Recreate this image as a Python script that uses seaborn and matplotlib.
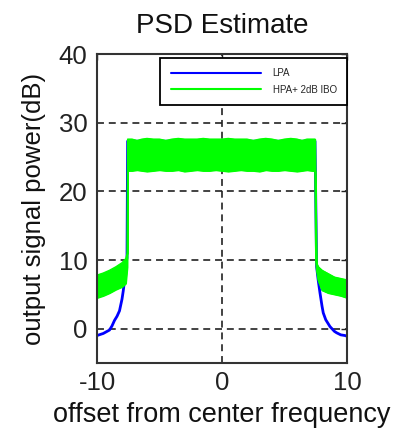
import matplotlib
matplotlib.use("Agg")
import matplotlib.pyplot as plt
import numpy as np
import pandas as pd
import seaborn as sns

# ---- data -------------------------------------------------------------
# Linear power amplifier (LPA) spectrum
lpa_freq = [-10.0, -9.5, -9.0, -8.8, -8.6, -8.4, -8.2, -8.0, -7.9, -7.8, -7.7,
            -7.6, -7.55, -7.0, -6.0, -5.0, -4.0, -3.0, -2.0, -1.0, 0.0, 1.0,
            2.0, 3.0, 4.0, 5.0, 6.0, 7.0, 7.44, 7.57, 7.7, 7.84, 8.0, 8.1,
            8.3, 8.64, 9.0, 9.17, 9.5, 9.84, 10.0]
lpa_power = [-1.0, -0.7, -0.2, 0.4, 1.2, 1.8, 2.6, 4.3, 5.5, 7.0, 9.2,
             10.3, 27.3, 27.3, 27.3, 27.3, 27.3, 27.3, 27.3, 27.3, 27.3, 27.3,
             27.3, 27.3, 27.3, 27.3, 27.3, 27.3, 27.3, 9.0, 7.0, 5.2, 3.3, 2.3,
             1.3, 0.3, -0.4, -0.6, -0.9, -1.0, -1.1]

# High power amplifier (HPA, 2 dB input back-off) spectrum: spread of the
# fluctuating estimate, given as its upper and lower envelope
hpa_freq = [-10.0, -9.5, -9.0, -8.5, -8.0, -7.7, -7.58, -7.55, -7.2, -6.8,
            -6.4, -6.0, -5.5, -5.0, -4.5, -4.0, -3.5, -3.0, -2.5, -2.0, -1.5,
            -1.0, -0.5, 0.0, 0.5, 1.0, 1.5, 2.0, 2.5, 3.0, 3.5, 4.0, 4.5, 5.0,
            5.5, 6.0, 6.4, 6.8, 7.2, 7.44, 7.5, 7.57, 7.7, 8.0, 8.5, 9.0, 9.5,
            10.0]
hpa_upper = [7.8, 8.1, 8.5, 9.0, 9.6, 10.2, 11.0, 27.6, 27.6, 27.4, 27.6,
             27.7, 27.6, 27.6, 27.4, 27.6, 27.7, 27.6, 27.6, 27.6, 27.7, 27.6,
             27.6, 27.6, 27.7, 27.6, 27.6, 27.6, 27.4, 27.6, 27.7, 27.6, 27.4,
             27.6, 27.7, 27.6, 27.4, 27.6, 27.6, 27.6, 17.7, 9.5, 9.0, 8.5, 8.0,
             7.5, 7.3, 7.1]
hpa_lower = [4.5, 4.8, 5.2, 5.7, 6.1, 6.6, 9.0, 23.0, 23.0, 23.1, 23.0,
             22.9, 23.0, 23.1, 23.0, 23.0, 23.1, 22.9, 23.0, 23.1, 23.0, 23.0,
             23.1, 23.0, 22.9, 23.0, 23.1, 23.0, 23.0, 22.9, 23.1, 23.0, 23.0,
             23.1, 23.0, 22.9, 23.0, 23.1, 23.0, 23.0, 10.0, 8.5, 7.0, 5.6, 5.2,
             5.0, 4.8, 4.5]

x_ticks = [-10, 0, 10]
y_ticks = [0, 10, 20, 30, 40]

# ---- style ------------------------------------------------------------
sns.set_theme(style="white")
plt.rcParams["font.family"] = ["Liberation Sans", "DejaVu Sans"]
plt.rcParams["axes.unicode_minus"] = False
plt.rcParams["lines.scale_dashes"] = False

BLUE = "#0000FF"
GREEN = "#00FF00"

lpa = pd.DataFrame({"freq": lpa_freq, "power": lpa_power})
hpa = pd.DataFrame({"freq": hpa_freq, "upper": hpa_upper, "lower": hpa_lower})

fig = plt.figure(figsize=(3.95, 4.34), dpi=100)
ax = fig.add_axes([97 / 395, 1 - 363 / 434, 250 / 395, 309 / 434])

sns.lineplot(data=lpa, x="freq", y="power", ax=ax, color=BLUE, lw=2.0,
             label="LPA", sort=False, zorder=2)
ax.fill_between(hpa["freq"], hpa["lower"], hpa["upper"], color=GREEN,
                lw=1.0, edgecolor=GREEN, zorder=3)
sns.lineplot(data=hpa, x="freq", y="upper", ax=ax, color=GREEN, lw=1.0,
             label="HPA+ 2dB IBO", sort=False, zorder=3)
sns.lineplot(data=hpa, x="freq", y="lower", ax=ax, color=GREEN, lw=1.0,
             sort=False, zorder=3)

ax.set_xlim(-10, 10)
ax.set_ylim(-5, 40)
ax.set_xticks(x_ticks)
ax.set_yticks(y_ticks)
ax.tick_params(direction="in", length=4, width=1, top=True, right=True,
               labelsize=18.5, colors="#222222", pad=6)
ax.tick_params(axis="y", pad=7)

ax.grid(True, color="#222222", lw=1.2, linestyle=(0, (5, 3.5)))
ax.set_axisbelow(True)
for s in ax.spines.values():
    s.set_color("#333333")
    s.set_linewidth(1.5)
    s.set_zorder(5)

ax.set_title("PSD Estimate", fontsize=20, pad=15, color="#111111")
ax.set_xlabel("offset from center frequency", fontsize=19.5, labelpad=5,
              color="#111111")
ax.set_ylabel("output signal power(dB)", fontsize=18.5, labelpad=9,
              color="#111111")

leg = ax.legend(loc="upper right", bbox_to_anchor=(1.0, 1 - 4 / 309),
                borderaxespad=0, fontsize=7, handlelength=9.3,
                handletextpad=1.2, labelspacing=0.65, borderpad=1.05,
                fancybox=False, framealpha=1, edgecolor="black")
leg.get_frame().set_linewidth(1.3)
for h in leg.legend_handles:
    h.set_linewidth(1.5)

fig.savefig("out.png", dpi=100)
